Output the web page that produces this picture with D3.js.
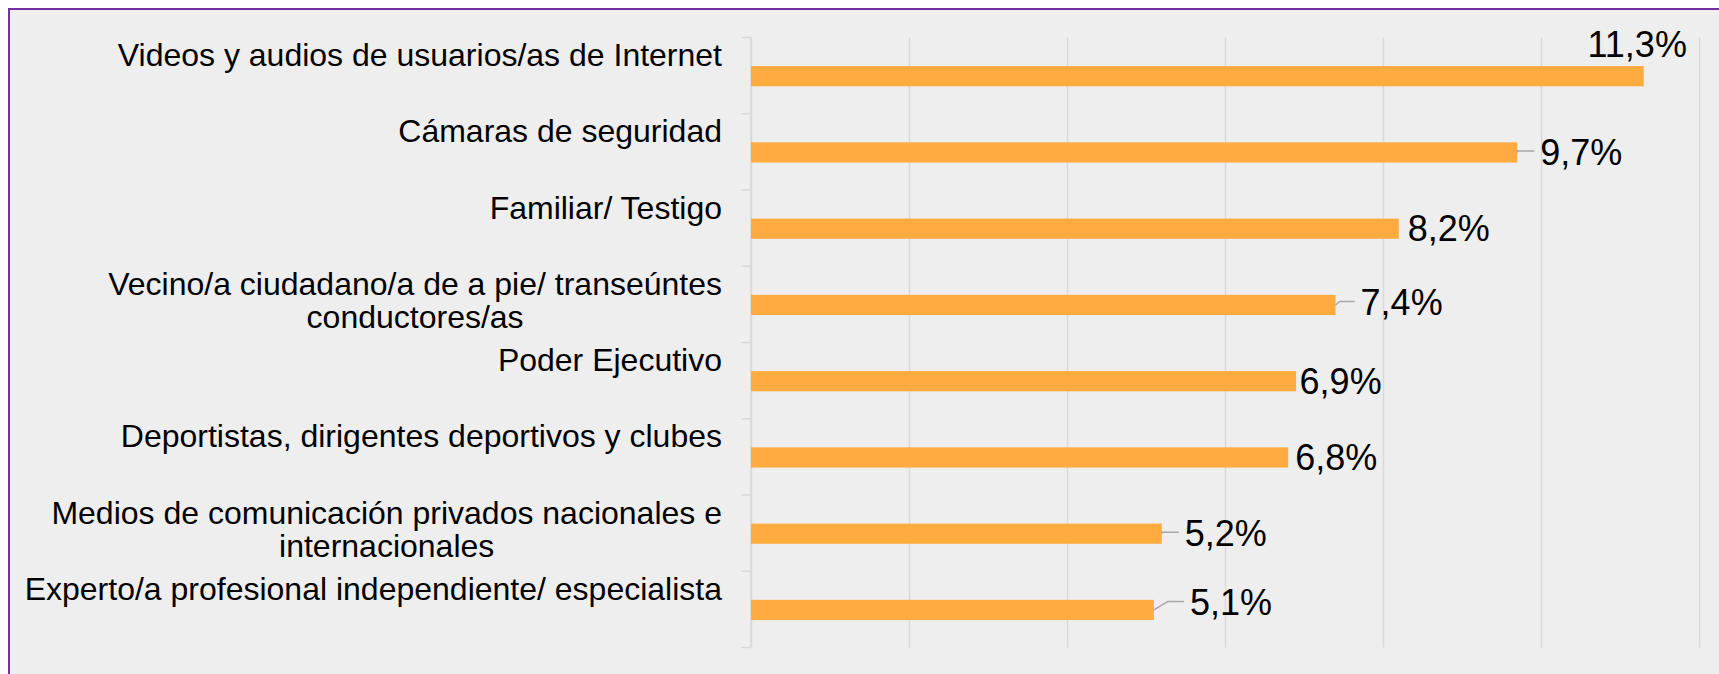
<!DOCTYPE html>
<html>
<head>
<meta charset="utf-8">
<script src="https://cdn.jsdelivr.net/npm/d3@7"></script>
<style>
  body { margin: 0; background: #fff; }
  svg { display: block; font-family: "Liberation Sans", Arial, sans-serif; }
</style>
</head>
<body>
<svg id="chart" width="1719" height="674"></svg>
<script>
// datos del gráfico
const categories = [
    "Videos y audios de usuarios/as de Internet",
    "Cámaras de seguridad",
    "Familiar/ Testigo",
    "Vecino/a ciudadano/a de a pie/ transeúntes conductores/as",
    "Poder Ejecutivo",
    "Deportistas, dirigentes deportivos y clubes",
    "Medios de comunicación privados nacionales e internacionales",
    "Experto/a profesional independiente/ especialista"
];
const values = [11.3, 9.7, 8.2, 7.4, 6.9, 6.8, 5.2, 5.1];
const xTicks = [0, 2, 4, 6, 8, 10, 12];

// ubicación manual de las etiquetas de datos (como en Excel)
const labelDx = [null, 25, 11, 27, 5.5, 9, 25, 38];
const labelDy = [0, 0, 0, -2, 0, 0, 0, -7];

const width = 1719, height = 674;
const plot = { left: 751, right: 1699, top: 37.5, bottom: 647.5 };
const labelRight = 722;

const fmt = d3.formatLocale({ decimal: ",", thousands: ".", grouping: [3], currency: ["", ""] }).format(".1f");

const svg = d3.select('#chart');

// fondo y borde
svg.append('rect').attr('x', 9).attr('y', 9).attr('width', width).attr('height', height)
    .attr('fill', '#eeeeee');
svg.append('path')
    .attr('d', `M9,${height} V9 H${width}`)
    .attr('fill', 'none').attr('stroke', '#7030a0').attr('stroke-width', 2);

const x = d3.scaleLinear().domain([0, 12]).range([plot.left, plot.right]);
const y = d3.scaleBand().domain(categories).range([plot.top, plot.bottom]);
const bw = y.bandwidth();

// líneas de cuadrícula
const grid = svg.append('g')
    .attr('transform', `translate(0,${plot.bottom})`)
    .call(d3.axisBottom(x).tickValues(xTicks).tickSize(-(plot.bottom - plot.top)).tickFormat(''));
grid.select('.domain').remove();
grid.selectAll('line').attr('stroke', '#d9d9d9').attr('stroke-width', 1.5);

// eje de categorías
svg.append('line')
    .attr('x1', plot.left).attr('x2', plot.left)
    .attr('y1', plot.top).attr('y2', plot.bottom)
    .attr('stroke', '#d9d9d9').attr('stroke-width', 1.5);
const bounds = categories.map(c => y(c)).concat([plot.bottom]);
svg.append('g').selectAll('line').data(bounds).enter().append('line')
    .attr('x1', plot.left - 10).attr('x2', plot.left)
    .attr('y1', d => d).attr('y2', d => d)
    .attr('stroke', '#d9d9d9').attr('stroke-width', 1.5);

// barras
svg.append('g').selectAll('rect').data(values).enter().append('rect')
    .attr('x', plot.left)
    .attr('y', (d, i) => y(categories[i]) + bw * 0.375)
    .attr('width', d => x(d) - x(0))
    .attr('height', bw * 0.265)
    .attr('fill', '#ffab40');

// etiquetas de categorías (con salto de línea)
const catG = svg.append('g').attr('font-size', 32).attr('fill', '#000');
categories.forEach((c, i) => {
    const base = y(c) + bw * 0.375;
    const words = c.split(' ');
    const lines = [];
    let line = [];
    const probe = catG.append('text');
    words.forEach(w => {
        line.push(w);
        probe.text(line.join(' '));
        if (probe.node().getComputedTextLength() > 712 && line.length > 1) {
            line.pop();
            lines.push(line.join(' '));
            line = [w];
        }
    });
    lines.push(line.join(' '));
    const widths = lines.map(l => { probe.text(l); return probe.node().getComputedTextLength(); });
    probe.remove();
    const maxW = d3.max(widths);
    lines.forEach((l, j) => {
        catG.append('text')
            .attr('x', lines.length > 1 ? labelRight - maxW / 2 : labelRight)
            .attr('y', base + j * 33)
            .attr('text-anchor', lines.length > 1 ? 'middle' : 'end')
            .text(l);
    });
});

// etiquetas de datos y líneas guía
const valG = svg.append('g').attr('font-size', 36).attr('fill', '#000');
values.forEach((v, i) => {
    const barTop = y(categories[i]) + bw * 0.375;
    const barMid = barTop + bw * 0.265 / 2;
    const x0 = x(v);
    if (labelDx[i] === null) {
        valG.append('text')
            .attr('x', x0 - 6.5).attr('y', barTop - 9.5)
            .attr('text-anchor', 'middle')
            .text(fmt(v) + '%');
        return;
    }
    const lx = x0 + labelDx[i];
    const ly = barMid + labelDy[i];
    valG.append('text')
        .attr('x', lx - 2).attr('y', ly + 12.5)
        .text(fmt(v) + '%');
    if (labelDx[i] > 15) {
        const diag = Math.abs(labelDy[i]) * 2;
        svg.append('path')
            .attr('d', `M${x0},${barMid} L${x0 + diag},${ly - 1.5} L${lx - 8},${ly - 1.5}`)
            .attr('fill', 'none').attr('stroke', '#a6a6a6').attr('stroke-width', 1.5);
    }
});
</script>
</body>
</html>
